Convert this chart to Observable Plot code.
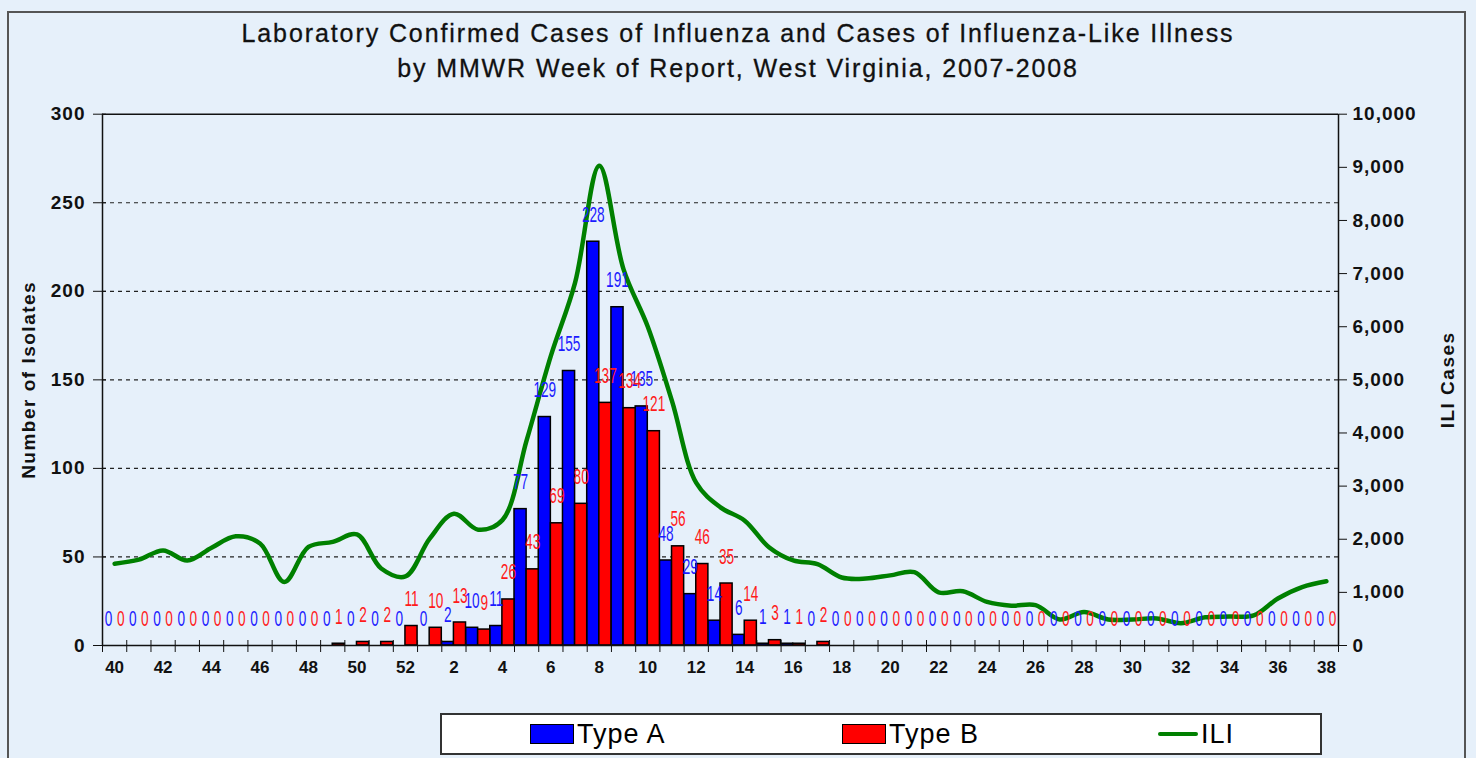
<!DOCTYPE html>
<html>
<head>
<meta charset="utf-8">
<script src="https://cdn.jsdelivr.net/npm/d3@7"></script>
<script src="https://cdn.jsdelivr.net/npm/@observablehq/plot@0.6"></script>
<style>
  html, body { margin: 0; padding: 0; background: #e6f0fa; }
  #wrap { position: relative; width: 1476px; height: 758px; overflow: hidden; background: #e6f0fa; font-family: "Liberation Sans", Arial, sans-serif; }
  #frame { position: absolute; left: 7px; top: 11px; width: 1459px; height: 800px; border: 2px solid #555; box-sizing: border-box; }
  #title { position: absolute; left: 0; top: 16px; width: 1476px; text-align: center; font-size: 25px; letter-spacing: 1.9px; line-height: 35px; color: #111; -webkit-text-stroke: 0.3px #111; }
  #chart { position: absolute; left: 0; top: 0; }
  #legend { position: absolute; left: 440px; top: 713px; width: 882px; height: 42px; background: #fff; border: 2px solid #333; box-sizing: border-box; font-family: "Liberation Sans", Arial, sans-serif; font-size: 27px; letter-spacing: 1px; color: #000; }
  .li { position: absolute; top: 0; height: 38px; display: flex; align-items: center; }
  .sw { width: 44px; height: 20px; border: 1.5px solid #000; box-sizing: border-box; margin-right: 3px; }
  .ln { width: 40px; height: 4px; background: #008000; margin-right: 3px; border-radius: 2px; }
  svg text { font-family: "Liberation Sans", Arial, sans-serif; }
</style>
</head>
<body>
<div id="wrap">
  <div id="frame"></div>
  <div id="title">Laboratory Confirmed Cases of Influenza and Cases of Influenza-Like Illness<br>by MMWR Week of Report, West Virginia, 2007-2008</div>
  <div id="chart"></div>
  <div id="legend">
    <div class="li" style="left:88px"><div class="sw" style="background:#0000ff"></div>Type A</div>
    <div class="li" style="left:400px"><div class="sw" style="background:#ff0000"></div>Type B</div>
    <div class="li" style="left:716px"><div class="ln"></div>ILI</div>
  </div>
</div>
<script>
const weeks = [40,41,42,43,44,45,46,47,48,49,50,51,52,1,2,3,4,5,6,7,8,9,10,11,12,13,14,15,16,17,18,19,20,21,22,23,24,25,26,27,28,29,30,31,32,33,34,35,36,37,38];
const typeA = [0,0,0,0,0,0,0,0,0,0,0,0,0, 0,2,10,11,77,129,155,228,191,135,48,29,14,6,1,1,0, 0,0,0,0,0,0,0,0,0,0,0,0,0,0,0,0,0,0,0,0,0];
const typeB = [0,0,0,0,0,0,0,0,0,1,2,2,11, 10,13,9,26,43,69,80,137,134,121,56,46,35,14,3,1,2, 0,0,0,0,0,0,0,0,0,0,0,0,0,0,0,0,0,0,0,0,0];
const ili = [1540,1615,1790,1600,1840,2055,1920,1195,1855,1950,2090,1450,1300, 2010,2480,2180,2360,3860,5450,6830,9030,7080,6000,4600,3060,2600,2350,1850,1600,1530, 1280,1260,1320,1380,1000,1020,820,750,760,490,630,490,490,510,420,530,545,565,885,1100,1210];
const leftTicks = [0,50,100,150,200,250,300];
const rightTicks = [0,1000,2000,3000,4000,5000,6000,7000,8000,9000,10000];
const gridLines = [50,100,150,200,250];

const n = weeks.length;
const k = 300 / 10000;
const rows = weeks.map((w, i) => ({i, w, a: typeA[i], b: typeB[i], ili: ili[i]}));
const bounds = d3.range(0, n + 1);
const labelPos = d3.range(0, n, 2).map(i => i + 0.5);

const labelFont = {fontFamily: "'Liberation Sans', Arial, sans-serif", fontSize: 22};

const chart = Plot.plot({
  width: 1476, height: 758,
  marginTop: 113.7, marginBottom: 113, marginLeft: 102, marginRight: 138,
  style: {background: "transparent", overflow: "visible"},
  x: {domain: [0, n], axis: null},
  y: {domain: [0, 300], axis: null},
  marks: [
    Plot.ruleY(gridLines, {stroke: "#222", strokeWidth: 1.2, strokeDasharray: "4,4"}),
    Plot.rectY(rows.filter(d => d.a > 0), {x1: d => d.i, x2: d => d.i + 0.5, y: "a", fill: "#0000ff", stroke: "#000", strokeWidth: 1.5}),
    Plot.rectY(rows.filter(d => d.b > 0), {x1: d => d.i + 0.5, x2: d => d.i + 1, y: "b", fill: "#ff0000", stroke: "#000", strokeWidth: 1.5}),
    Plot.ruleX([0, n], {stroke: "#111", strokeWidth: 1.5}),
    Plot.ruleY([0, 300], {stroke: "#111", strokeWidth: 1.5}),
    Plot.line(rows, {x: d => d.i + 0.5, y: d => d.ili * k, stroke: "#008000", strokeWidth: 4.5, curve: "catmull-rom"}),
    Plot.text(rows, {x: d => d.i + 0.25, y: "a", text: d => String(d.a), fill: "#1a1aff", dy: -27, ...labelFont}),
    Plot.text(rows, {x: d => d.i + 0.75, y: "b", text: d => String(d.b), fill: "#ff1a1a", dy: -27, ...labelFont}),
    Plot.axisY(leftTicks, {anchor: "left", tickSize: 9, tickPadding: 8, fontSize: 19, fontWeight: "bold", stroke: "#111", fill: "#111"}),
    Plot.axisY(leftTicks, {anchor: "left", tickSize: -4, tickFormat: () => "", stroke: "#111"}),
    Plot.axisY(rightTicks.map(v => v * k), {anchor: "right", tickSize: 8, tickPadding: 6, fontSize: 19, fontWeight: "bold", tickFormat: d => d3.format(",")(Math.round(d / k)), stroke: "#111", fill: "#111"}),
    Plot.axisX(bounds, {anchor: "bottom", tickSize: 7, tickFormat: () => "", stroke: "#111"}),
    Plot.axisX(bounds, {anchor: "bottom", tickSize: -5, tickFormat: () => "", stroke: "#111"}),
    Plot.axisX(labelPos, {anchor: "bottom", tickSize: 0, tickPadding: 15, fontSize: 17, fontWeight: "bold", tickFormat: d => String(weeks[Math.floor(d)]), fill: "#111"}),
    Plot.text(["Number of Isolates"], {frameAnchor: "left", textAnchor: "middle", dx: -74, rotate: -90, fontSize: 19, fontWeight: "bold", fill: "#111"}),
    Plot.text(["ILI Cases"], {frameAnchor: "right", textAnchor: "middle", dx: 109, rotate: -90, fontSize: 19, fontWeight: "bold", fill: "#111"})
  ]
});
document.getElementById("chart").appendChild(chart);

// condense the data labels horizontally (the reference uses a narrow face)
chart.querySelectorAll('g[fill="#1a1aff"] text, g[fill="#ff1a1a"] text').forEach(t => {
  const tr = t.getAttribute("transform");
  if (tr) {
    t.setAttribute("transform", tr + " scale(0.62,1)");
  } else {
    const x = +t.getAttribute("x") || 0, y = +t.getAttribute("y") || 0;
    t.removeAttribute("x"); t.removeAttribute("y");
    t.setAttribute("transform", `translate(${x},${y}) scale(0.62,1)`);
  }
});
// letter spacing for axis labels and titles
chart.querySelectorAll('g[aria-label="y-axis tick label"] text').forEach(t => t.setAttribute("letter-spacing", "1"));
chart.querySelectorAll('g[aria-label="text"] text').forEach(t => {
  if (t.textContent === "Number of Isolates" || t.textContent === "ILI Cases") t.setAttribute("letter-spacing", "1.5");
});
</script>
</body>
</html>
